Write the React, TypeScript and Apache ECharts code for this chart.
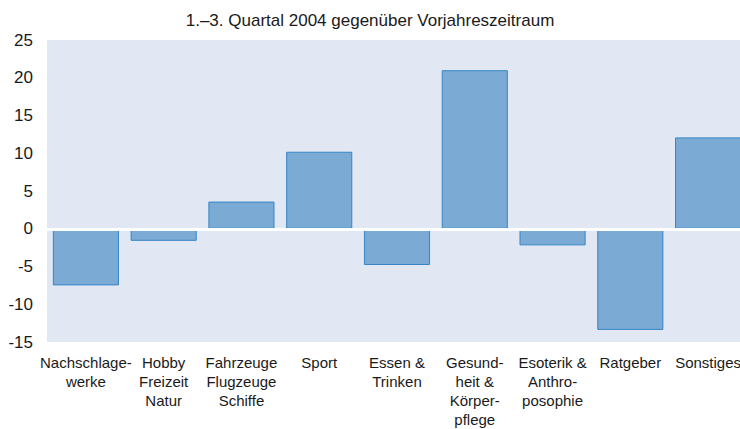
import React, { useEffect, useRef } from "react";
import * as echarts from "echarts";

const title = "1.–3. Quartal 2004 gegenüber Vorjahreszeitraum";
const categories = [
  "Nachschlage-\nwerke",
  "Hobby\nFreizeit\nNatur",
  "Fahrzeuge\nFlugzeuge\nSchiffe",
  "Sport",
  "Essen &\nTrinken",
  "Gesund-\nheit &\nKörper-\npflege",
  "Esoterik &\nAnthro-\nposophie",
  "Ratgeber",
  "Sonstiges",
];
const values = [-7.5, -1.6, 3.6, 10.2, -4.8, 21.0, -2.2, -13.4, 12.1];
const yMin = -15;
const yMax = 25;
const yInterval = 5;

export default function App() {
  const ref = useRef<HTMLDivElement>(null);
  useEffect(() => {
    if (!ref.current) return;
    const chart = echarts.init(ref.current, undefined, { renderer: "svg" });
    const font = "Liberation Sans, Arial, sans-serif";
    chart.setOption({
      animation: false,
      title: {
        text: title,
        left: "center",
        top: 7,
        textStyle: { fontFamily: font, fontSize: 17, fontWeight: "normal", color: "#1a1a1a" },
      },
      grid: {
        left: 47,
        right: -7,
        top: 40,
        bottom: 87,
        show: true,
        backgroundColor: "#E1E8F4",
        borderWidth: 0,
        outerBoundsMode: "none",
        containLabel: false,
      },
      xAxis: {
        type: "category",
        data: categories,
        z: 5,
        axisLine: { show: true, onZero: true, lineStyle: { color: "#ffffff", width: 3 } },
        axisTick: { show: false },
        axisLabel: {
          interval: 0,
          margin: 11,
          fontFamily: font,
          fontSize: 15,
          lineHeight: 19,
          color: "#1a1a1a",
          verticalAlign: "top",
        },
        position: "bottom",
      },
      yAxis: {
        type: "value",
        min: yMin,
        max: yMax,
        interval: yInterval,
        splitLine: { show: false },
        axisLine: { show: false },
        axisTick: { show: false },
        axisLabel: { fontFamily: font, fontSize: 17, color: "#1a1a1a", margin: 14 },
      },
      series: [
        {
          type: "bar",
          data: values,
          barCategoryGap: "15%",
          itemStyle: { color: "#7BAAD4", borderColor: "#3585C6", borderWidth: 1 },
        },
      ],
    });
    return () => chart.dispose();
  }, []);
  return (
    <div
      ref={ref}
      style={{ position: "absolute", left: 0, top: 0, width: 740, height: 429 }}
    />
  );
}
